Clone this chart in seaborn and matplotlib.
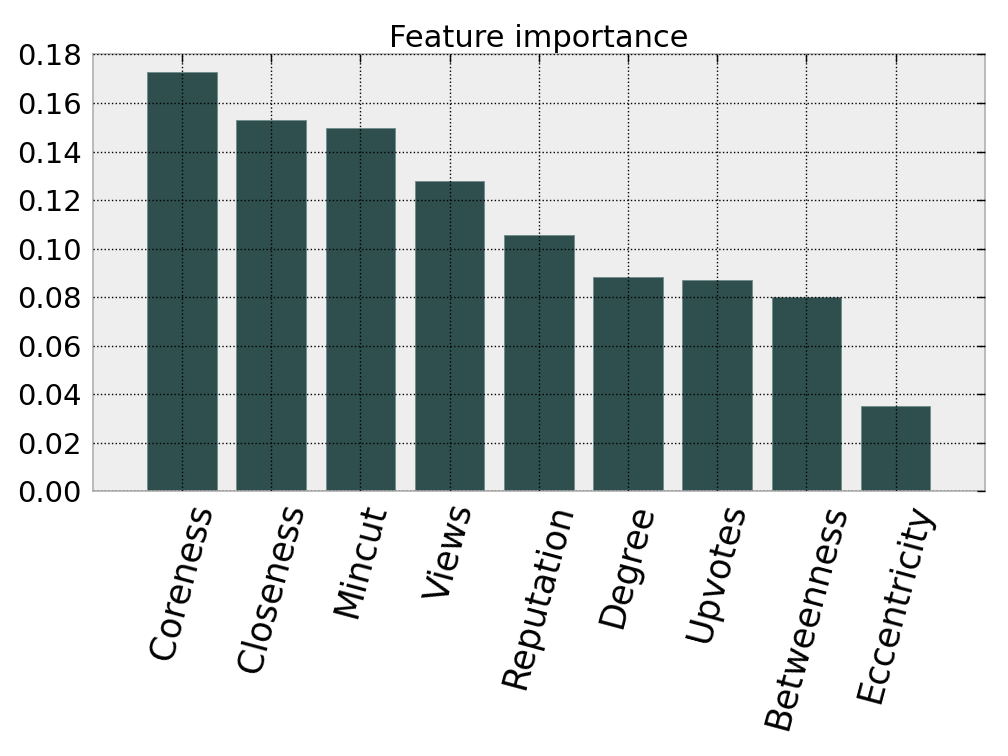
import matplotlib
matplotlib.use("Agg")
import matplotlib.pyplot as plt
import seaborn as sns
import pandas as pd

# Feature importances
features = ["Coreness", "Closeness", "Mincut", "Views", "Reputation",
            "Degree", "Upvotes", "Betweenness", "Eccentricity"]
importance = [0.1726, 0.1528, 0.1495, 0.1277, 0.1058,
              0.0885, 0.0869, 0.0799, 0.0350]
yticks = [0.00, 0.02, 0.04, 0.06, 0.08, 0.10, 0.12, 0.14, 0.16, 0.18]

df = pd.DataFrame({"feature": features, "importance": importance})

sns.set_style("white")
plt.rcParams['font.family'] = ['DejaVu Sans']
plt.rcParams['text.color'] = 'black'
plt.rcParams['xtick.color'] = 'black'
plt.rcParams['ytick.color'] = 'black'

fig, ax = plt.subplots(figsize=(10.08, 7.56), dpi=100)
sns.barplot(data=df, x="feature", y="importance", color="#2f4f4f",
            saturation=1, width=0.78, edgecolor="#6f8a8a", linewidth=0.6, ax=ax)

ax.set_facecolor("#eeeeee")
ax.set_xlim(-1, 9)
ax.set_ylim(0, 0.18)
ax.set_yticks(yticks)
ax.set_yticklabels([f"{v:.2f}" for v in yticks])
ax.set_xlabel("")
ax.set_ylabel("")
ax.set_title("Feature importance", fontsize=22, color="black", pad=5)

# grid drawn over the bars, dotted black
ax.grid(True, color="black", linestyle=":", linewidth=1)
ax.set_axisbelow(False)
for sp in ax.spines.values():
    sp.set_color("#b0b0b0")
    sp.set_linewidth(1.2)

ax.tick_params(axis="both", direction="in", length=6, width=1, color="black",
               labelcolor="black", top=True, right=True)
ax.tick_params(axis="y", labelsize=21, pad=8)
ax.tick_params(axis="x", labelsize=25, pad=6)
plt.setp(ax.get_xticklabels(), rotation=75, ha="center")

fig.subplots_adjust(left=0.092, right=0.977, top=0.928, bottom=0.35)
fig.savefig("out.png", dpi=100)
